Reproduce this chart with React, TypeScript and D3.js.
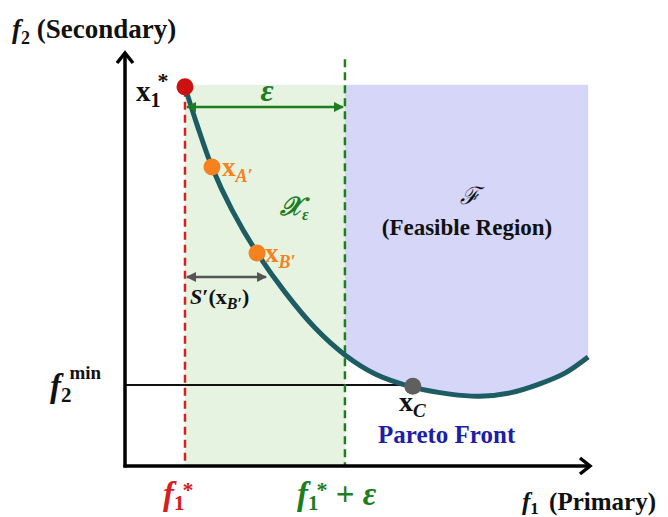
import React from "react";
import * as d3 from "d3";

// Pareto front (f1, f2) sample points
const frontF1 = [1.29, 1.55, 1.87, 2.3, 2.84, 3.44, 4.09, 4.73, 5.38, 6.19, 6.99, 7.63, 8.28, 8.92, 9.46, 9.96];
const frontF2 = [9.18, 8.26, 7.24, 6.2, 5.16, 4.21, 3.34, 2.69, 2.23, 1.91, 1.74, 1.69, 1.77, 1.99, 2.25, 2.64];

const f1Star = 1.29;
const epsilon = 3.44;
const regionTop = 9.23;
const f2Min = 1.96;
const pointA = [1.87, 7.24];
const pointB = [2.84, 5.16];
const pointC = [6.19, 1.93];

const W = 668;
const H = 517;

export default function App() {
  const x = d3.scaleLinear().domain([0, 10]).range([125, 590]);
  const y = d3.scaleLinear().domain([0, 10]).range([466, 53]);

  const pts: [number, number][] = frontF1.map((f, i) => [f, frontF2[i]]);
  const line = d3
    .line<[number, number]>()
    .x((d) => x(d[0]))
    .y((d) => y(d[1]))
    .curve(d3.curveCatmullRom.alpha(0.5));
  const frontPath = line(pts) || "";

  const epsX = f1Star + epsilon;
  const rightPts = pts.filter((d) => d[0] >= epsX - 1e-6);
  const area = d3
    .area<[number, number]>()
    .x((d) => x(d[0]))
    .y0((d) => y(d[1]))
    .y1(() => y(regionTop))
    .curve(d3.curveCatmullRom.alpha(0.5));
  const purplePath = area(rightPts) || "";

  const serif = "'Liberation Serif', 'DejaVu Serif', serif";
  const teal = "#1d5c63";
  const green = "#1e7d1e";
  const red = "#d42020";
  const orange = "#f5821f";

  const x0 = x(0);
  const y0 = y(0);

  return (
    <div style={{ position: "absolute", left: 0, top: 0 }}>
      <svg width={W} height={H} style={{ display: "block", background: "#fff" }} fontFamily={serif}>
        <defs>
          <marker id="ghead" viewBox="0 0 10 10" refX="9" refY="5" markerWidth="4" markerHeight="4" orient="auto-start-reverse">
            <path d="M0,0 L10,5 L0,10 Z" fill={green} />
          </marker>
          <marker id="grayhead" viewBox="0 0 10 10" refX="9" refY="5" markerWidth="4" markerHeight="4" orient="auto-start-reverse">
            <path d="M0,0 L10,5 L0,10 Z" fill="#555" />
          </marker>
        </defs>

        {/* regions */}
        <rect x={x(f1Star)} y={y(regionTop)} width={x(epsX) - x(f1Star)} height={y0 - y(regionTop)} fill="#e5f3e0" />
        <path d={purplePath} fill="#d6d6f8" />

        {/* f2 min line */}
        <line x1={x0} x2={x(pointC[0])} y1={y(f2Min)} y2={y(f2Min)} stroke="#111" strokeWidth={2} />

        {/* dashed lines */}
        <line x1={x(f1Star)} x2={x(f1Star)} y1={y(regionTop) + 4} y2={y0} stroke={red} strokeWidth={2.5} strokeDasharray="8,5" />
        <line x1={x(epsX)} x2={x(epsX)} y1={y(9.85)} y2={y0} stroke={green} strokeWidth={2.5} strokeDasharray="8,5" />

        {/* axes */}
        <line x1={x0} x2={x0} y1={y0 + 1.5} y2={y(10) + 1} stroke="#000" strokeWidth={3.5} />
        <path d={`M${x0 - 8},${y(10) + 10} L${x0},${y(10)} L${x0 + 8},${y(10) + 10}`} fill="none" stroke="#000" strokeWidth={3.5} strokeLinejoin="miter" />
        <line x1={x0 - 1.5} x2={x(10) - 1} y1={y0} y2={y0} stroke="#000" strokeWidth={3.5} />
        <path d={`M${x(10) - 10},${y0 - 8} L${x(10)},${y0} L${x(10) - 10},${y0 + 8}`} fill="none" stroke="#000" strokeWidth={3.5} />

        {/* pareto front */}
        <path d={frontPath} fill="none" stroke={teal} strokeWidth={5} strokeLinecap="butt" />

        {/* epsilon arrow */}
        <line x1={x(f1Star) + 2} x2={x(epsX) - 2} y1={107} y2={107} stroke={green} strokeWidth={2.5} markerStart="url(#ghead)" markerEnd="url(#ghead)" />
        <text x={(x(f1Star) + x(epsX)) / 2 + 2} y={101} textAnchor="middle" fill={green} fontSize={32} fontWeight="bold" fontStyle="italic">ε</text>

        {/* S' arrow */}
        <line x1={x(f1Star) + 2} x2={x(pointB[0]) + 9} y1={277} y2={277} stroke="#555" strokeWidth={2.5} markerStart="url(#grayhead)" markerEnd="url(#grayhead)" />
        <text x={190} y={304} fontSize={22} fontWeight="bold" fill="#111">
          <tspan fontStyle="italic">S</tspan>′(x<tspan fontStyle="italic" fontSize={16} dy={5}>B</tspan><tspan fontSize={16}>′</tspan><tspan dy={-5}>)</tspan>
        </text>

        {/* points */}
        <circle cx={x(frontF1[0])} cy={y(frontF2[0])} r={8.5} fill="#cc1111" />
        <circle cx={x(pointA[0])} cy={y(pointA[1])} r={8.5} fill={orange} />
        <circle cx={x(pointB[0])} cy={y(pointB[1])} r={8.5} fill={orange} />
        <circle cx={x(pointC[0])} cy={y(pointC[1])} r={8.5} fill="#5f5f5f" />

        {/* point labels */}
        <text x={136} y={101} fontSize={29} fontWeight="bold" fill="#111">
          x<tspan fontSize={20} dy={6}>1</tspan><tspan fontSize={22} dx={-3} dy={-19}>*</tspan>
        </text>

        <text x={222} y={176} fontSize={27} fontWeight="bold" fill={orange}>
          x<tspan fontSize={18} fontStyle="italic" dy={6}>A′</tspan>
        </text>
        <text x={265} y={262} fontSize={27} fontWeight="bold" fill={orange}>
          x<tspan fontSize={18} fontStyle="italic" dy={6}>B′</tspan>
        </text>
        <text x={280} y={215} fontSize={26} fill={green} fontStyle="italic" fontWeight="bold">
          𝒳<tspan fontSize={16} dy={5}>ε</tspan>
        </text>

        <text x={399} y={411} fontSize={28} fontWeight="bold" fill="#111">
          x<tspan fontSize={19} fontStyle="italic" dy={6}>C</tspan>
        </text>
        <text x={378} y={443} fontSize={25} fontWeight="bold" fill="#1d1da8">Pareto Front</text>

        <text x={470} y={204} textAnchor="middle" fontSize={24} fill="#111" fontStyle="italic">ℱ</text>
        <text x={467} y={235} textAnchor="middle" fontSize={23} fontWeight="bold" fill="#111">(Feasible Region)</text>

        {/* axis titles */}
        <text x={12} y={38} fontSize={27} fontWeight="bold" fill="#111">
          <tspan fontStyle="italic">f</tspan><tspan fontSize={18} dy={6}>2</tspan><tspan dy={-6}> (Secondary)</tspan>
        </text>
        <text x={522} y={510} fontSize={25} fontWeight="bold" fill="#111">
          <tspan fontStyle="italic">f</tspan><tspan fontSize={17} dy={4}>1</tspan><tspan dy={-4} dx={4}> (Primary)</tspan>
        </text>

        {/* f2 min */}
        <text x={50} y={397} fontSize={33} fontWeight="bold" fill="#111">
          <tspan fontStyle="italic">f</tspan><tspan fontSize={21} dy={5}>2</tspan><tspan fontSize={19} dx={-2} dy={-23}>min</tspan>
        </text>

        {/* f1* labels */}
        <text x={163} y={505} fontSize={33} fontWeight="bold" fill={red}>
          <tspan fontStyle="italic">f</tspan><tspan fontSize={21} dy={5}>1</tspan><tspan fontSize={22} dx={-2} dy={-13}>*</tspan>
        </text>

        <text x={297} y={505} fontSize={33} fontWeight="bold" fill={green}>
          <tspan fontStyle="italic">f</tspan><tspan fontSize={21} dy={5}>1</tspan><tspan fontSize={22} dx={-2} dy={-13}>*</tspan><tspan dy={8} dx={0}> + </tspan><tspan fontStyle="italic">ε</tspan>
        </text>
      </svg>
    </div>
  );
}
